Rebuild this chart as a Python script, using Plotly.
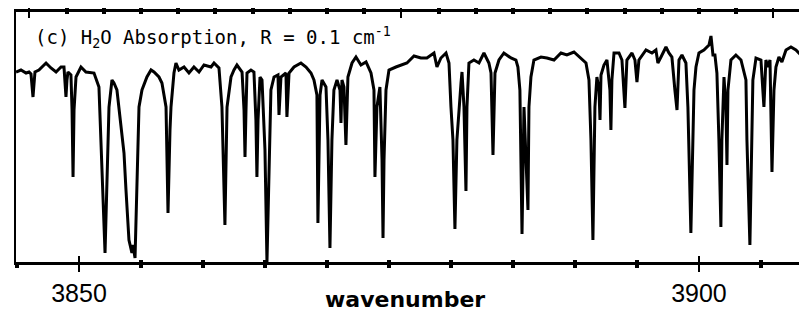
import plotly.graph_objects as go

# Wavenumber (cm^-1) and relative transmission
wavenumber = [
    3844.92, 3845.32, 3845.73, 3845.97, 3846.13, 3846.29, 3846.45, 3846.77, 3847.34, 3847.74,
    3848.15, 3848.55, 3848.79, 3848.87, 3848.95, 3849.03, 3849.11, 3849.35, 3849.44, 3849.52,
    3849.60, 3849.76, 3850.16, 3850.56, 3851.21, 3851.61, 3851.77, 3851.94, 3852.10, 3852.26,
    3852.42, 3852.66, 3852.82, 3853.06, 3853.39, 3853.63, 3853.79, 3854.03, 3854.27, 3854.35,
    3854.52, 3854.68, 3854.84, 3855.08, 3855.48, 3855.81, 3856.05, 3856.45, 3856.69, 3857.02,
    3857.18, 3857.34, 3857.42, 3857.66, 3857.82, 3858.06, 3858.47, 3858.87, 3859.27, 3859.68,
    3860.08, 3860.65, 3860.89, 3861.29, 3861.53, 3861.77, 3861.94, 3862.26, 3862.50, 3862.74,
    3863.15, 3863.31, 3863.39, 3863.47, 3863.55, 3863.87, 3864.11, 3864.27, 3864.35, 3864.44,
    3864.60, 3864.76, 3865.00, 3865.16, 3865.32, 3865.48, 3865.73, 3866.05, 3866.13, 3866.29,
    3866.69, 3866.77, 3866.94, 3867.34, 3867.90, 3868.31, 3868.71, 3868.95, 3869.19, 3869.27,
    3869.44, 3869.60, 3869.92, 3870.08, 3870.24, 3870.40, 3870.56, 3870.81, 3871.05, 3871.13,
    3871.21, 3871.37, 3871.53, 3871.69, 3872.02, 3872.34, 3872.74, 3873.15, 3873.55, 3873.79,
    3873.87, 3874.03, 3874.27, 3874.44, 3874.52, 3874.60, 3874.76, 3875.00, 3875.56, 3875.97,
    3876.45, 3877.02, 3877.58, 3878.06, 3878.63, 3878.87, 3879.19, 3879.60, 3879.84, 3880.00,
    3880.16, 3880.32, 3880.48, 3880.81, 3880.89, 3881.05, 3881.21, 3881.29, 3881.45, 3881.85,
    3882.26, 3882.66, 3883.06, 3883.23, 3883.39, 3883.55, 3883.87, 3884.27, 3884.84, 3885.24,
    3885.40, 3885.56, 3885.73, 3885.89, 3886.05, 3886.21, 3886.29, 3886.45, 3886.69, 3887.26,
    3887.74, 3888.31, 3888.87, 3889.35, 3889.92, 3890.48, 3890.89, 3891.13, 3891.29, 3891.45,
    3891.61, 3891.77, 3891.94, 3892.02, 3892.10, 3892.34, 3892.58, 3892.82, 3892.90, 3892.98,
    3893.15, 3893.55, 3893.79, 3894.03, 3894.19, 3894.60, 3894.84, 3895.00, 3895.16, 3895.73,
    3896.21, 3896.53, 3896.69, 3896.94, 3897.34, 3897.58, 3897.82, 3898.06, 3898.23, 3898.39,
    3898.63, 3898.95, 3899.11, 3899.35, 3899.60, 3899.76, 3900.00, 3900.40, 3900.81, 3900.97,
    3901.13, 3901.29, 3901.45, 3901.61, 3901.77, 3901.85, 3902.02, 3902.18, 3902.26, 3902.34,
    3902.58, 3902.98, 3903.39, 3903.79, 3903.87, 3904.11, 3904.27, 3904.35, 3904.60, 3905.00,
    3905.24, 3905.40, 3905.56, 3905.73, 3905.89, 3906.05, 3906.21, 3906.45, 3906.69, 3907.02,
    3907.42, 3907.82, 3908.23, 3908.63, 3909.05,
]
transmission = [
    0.760, 0.768, 0.756, 0.760, 0.752, 0.660, 0.760, 0.768, 0.796, 0.776,
    0.760, 0.780, 0.780, 0.728, 0.660, 0.728, 0.760, 0.748, 0.608, 0.340,
    0.608, 0.740, 0.780, 0.760, 0.756, 0.700, 0.488, 0.208, 0.036, 0.328,
    0.620, 0.728, 0.716, 0.688, 0.556, 0.436, 0.288, 0.088, 0.036, 0.068,
    0.016, 0.356, 0.620, 0.688, 0.740, 0.768, 0.760, 0.740, 0.716, 0.620,
    0.196, 0.528, 0.620, 0.756, 0.796, 0.768, 0.780, 0.756, 0.780, 0.760,
    0.788, 0.780, 0.796, 0.776, 0.620, 0.148, 0.620, 0.740, 0.768, 0.788,
    0.760, 0.608, 0.420, 0.608, 0.756, 0.768, 0.760, 0.568, 0.340, 0.568,
    0.740, 0.728, 0.448, 0.000, 0.368, 0.688, 0.740, 0.748, 0.588, 0.740,
    0.756, 0.580, 0.756, 0.780, 0.796, 0.780, 0.756, 0.728, 0.668, 0.156,
    0.668, 0.728, 0.700, 0.488, 0.056, 0.488, 0.688, 0.728, 0.688, 0.556,
    0.728, 0.700, 0.468, 0.740, 0.796, 0.820, 0.788, 0.800, 0.756, 0.688,
    0.340, 0.620, 0.700, 0.408, 0.096, 0.408, 0.688, 0.768, 0.780, 0.788,
    0.796, 0.824, 0.816, 0.816, 0.836, 0.780, 0.816, 0.836, 0.796, 0.620,
    0.488, 0.132, 0.488, 0.716, 0.760, 0.620, 0.284, 0.620, 0.796, 0.808,
    0.796, 0.836, 0.796, 0.756, 0.428, 0.756, 0.808, 0.836, 0.816, 0.808,
    0.780, 0.688, 0.112, 0.620, 0.380, 0.208, 0.620, 0.740, 0.808, 0.820,
    0.816, 0.808, 0.836, 0.828, 0.840, 0.816, 0.796, 0.728, 0.488, 0.088,
    0.620, 0.740, 0.688, 0.568, 0.748, 0.788, 0.808, 0.688, 0.528, 0.728,
    0.836, 0.836, 0.808, 0.616, 0.808, 0.836, 0.808, 0.720, 0.808, 0.848,
    0.836, 0.848, 0.796, 0.820, 0.860, 0.836, 0.820, 0.688, 0.608, 0.808,
    0.828, 0.796, 0.620, 0.116, 0.688, 0.780, 0.836, 0.848, 0.868, 0.904,
    0.828, 0.828, 0.756, 0.488, 0.140, 0.488, 0.740, 0.608, 0.388, 0.688,
    0.808, 0.828, 0.808, 0.728, 0.488, 0.068, 0.488, 0.728, 0.816, 0.808,
    0.620, 0.808, 0.780, 0.808, 0.360, 0.688, 0.780, 0.820, 0.800, 0.848,
    0.860, 0.848, 0.828, 0.848, 0.840,
]

x_range = [3844.92, 3909.36]
bottom_major = [3850, 3900]
bottom_labels = ["3850", "3900"]
bottom_minor = [3845, 3855, 3860, 3865, 3870, 3875, 3880, 3885, 3890, 3895, 3905]
top_major = [3846, 3876, 3906]
top_minor = [3849, 3852, 3855, 3858, 3861, 3864, 3867, 3870, 3873, 3879, 3882,
             3885, 3888, 3891, 3894, 3897, 3900, 3903, 3909]

fig = go.Figure()
fig.add_trace(go.Scatter(x=wavenumber, y=transmission, mode="lines",
                         line=dict(color="black", width=3), showlegend=False,
                         hoverinfo="skip"))
for ax in ["x2", "x3", "x4"]:
    fig.add_trace(go.Scatter(x=[None], y=[None], xaxis=ax, yaxis="y",
                             mode="lines", showlegend=False, hoverinfo="skip"))

common = dict(range=x_range, showgrid=False, zeroline=False, automargin=False)

# the page body adds an 8px offset; the plot area runs past the right window edge
fig.update_layout(
    width=807, height=314,
    margin=dict(l=8, r=0, t=4, b=60),
    paper_bgcolor="white", plot_bgcolor="white",
    xaxis=dict(**common, side="bottom", showline=True, linecolor="black", linewidth=2.5,
               tickvals=bottom_major, ticktext=bottom_labels, ticks="outside",
               ticklen=7, tickwidth=2, tickcolor="black",
               tickfont=dict(family="Liberation Sans", size=25, color="black"),
               minor=dict(tickvals=bottom_minor, ticks="outside", ticklen=3,
                          tickwidth=4, tickcolor="black", showgrid=False)),
    xaxis2=dict(**common, overlaying="x", anchor="y", side="bottom", showline=False,
                tickvals=bottom_major, ticks="inside", ticklen=6, tickwidth=2,
                tickcolor="black", showticklabels=False,
                minor=dict(tickvals=bottom_minor, ticks="inside", ticklen=2,
                           tickwidth=4, tickcolor="black", showgrid=False)),
    xaxis3=dict(**common, overlaying="x", anchor="y", side="top", showline=True,
                linecolor="black", linewidth=2.5,
                tickvals=top_major, ticks="outside", ticklen=6, tickwidth=2,
                tickcolor="black", showticklabels=False,
                minor=dict(tickvals=top_minor, ticks="outside", ticklen=2,
                           tickwidth=4, tickcolor="black", showgrid=False)),
    xaxis4=dict(**common, overlaying="x", anchor="y", side="top", showline=False,
                tickvals=top_major, ticks="inside", ticklen=6, tickwidth=2,
                tickcolor="black", showticklabels=False,
                minor=dict(tickvals=top_minor, ticks="inside", ticklen=2,
                           tickwidth=4, tickcolor="black", showgrid=False)),
    yaxis=dict(range=[0, 1], showgrid=False, zeroline=False, showline=True,
               linecolor="black", linewidth=2, ticks="", showticklabels=False,
               mirror=False, automargin=False),
    annotations=[
        dict(text="(c) H<sub>2</sub>O Absorption, R = 0.1 cm<sup>-1</sup>",
             xref="paper", yref="paper", x=0.0212, y=0.896, xanchor="left",
             yanchor="middle", showarrow=False,
             font=dict(family="DejaVu Sans Mono", size=19, color="black")),
        dict(text="<b>wavenumber</b>", xref="paper", yref="paper", x=0.4868, y=-0.148,
             xanchor="center", yanchor="middle", showarrow=False,
             font=dict(family="DejaVu Sans", size=22, color="black")),
    ],
)

fig.write_html("out.html")
